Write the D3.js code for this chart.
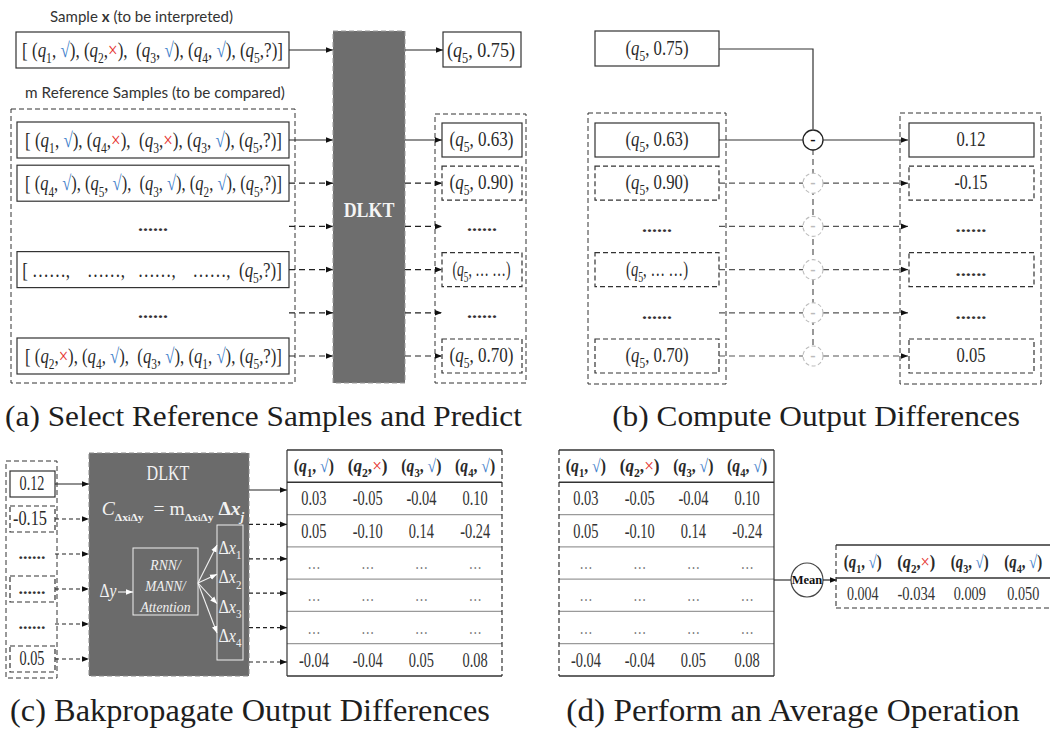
<!DOCTYPE html>
<html><head><meta charset="utf-8">
<script src="https://cdn.jsdelivr.net/npm/d3@7"></script>
<style>html,body{margin:0;padding:0;background:#fff}svg{display:block}</style>
</head><body><svg id="c" width="1050" height="731"></svg>
<script>
// ---------------- data ----------------
const sampleX = [[1,"√"],[2,"×"],[3,"√"],[4,"√"],[5,"?"]];
const refSamples = [
  [[1,"√"],[4,"×"],[3,"×"],[3,"√"],[5,"?"]],
  [[4,"√"],[5,"√"],[3,"√"],[2,"√"],[5,"?"]],
  null,
  "elided",
  null,
  [[2,"×"],[4,"√"],[3,"√"],[1,"√"],[5,"?"]]
];
const predX = "0.75";
const predRefs = ["0.63","0.90",null,"… …",null,"0.70"];
const outDiffs = ["0.12","-0.15",null,"......",null,"0.05"];
const attrHeader = [[1,"√"],[2,"×"],[3,"√"],[4,"√"]];
const attrRows = [
  ["0.03","-0.05","-0.04","0.10"],
  ["0.05","-0.10","0.14","-0.24"],
  ["…","…","…","…"],
  ["…","…","…","…"],
  ["…","…","…","…"],
  ["-0.04","-0.04","0.05","0.08"]
];
const meanValues = ["0.004","-0.034","0.009","0.050"];
const deltaX = [1,2,3,4];
const rnnLines = ["RNN/","MANN/","Attention"];
const captions = ["(a) Select Reference Samples and Predict","(b) Compute Output Differences",
                  "(c) Bakpropagate Output Differences","(d) Perform an Average Operation"];

// ---------------- helpers ----------------
const SERIF = "'Liberation Serif','Times New Roman',serif";
const SANS = "Lato,'Open Sans','Liberation Sans',sans-serif";
const CHECK = "#3f7fcb", CROSS = "#e5322d", INK = "#2a2a2a";
const svg = d3.select("#c");
const defs = svg.append("defs");
function marker(id, color){
  defs.append("marker").attr("id",id).attr("viewBox","0 0 10 10").attr("refX",10).attr("refY",5)
    .attr("markerWidth",7).attr("markerHeight",7).attr("markerUnits","userSpaceOnUse").attr("orient","auto")
    .append("path").attr("d","M0,1 L10,5 L0,9 z").attr("fill",color);
}
marker("aB","#111"); marker("aW","#fff");

function rich(parent, x, y, parts, o){
  o = o || {};
  const size = o.size || 18;
  const g = parent.append("g").attr("transform",`translate(${x},${y})`);
  const t = g.append("text").attr("text-anchor", o.anchor || "middle")
    .attr("font-family", o.font || SERIF).attr("font-size", size)
    .attr("fill", o.fill || INK).style("white-space","pre");
  if (o.weight) t.attr("font-weight", o.weight);
  if (o.italic) t.attr("font-style","italic");
  if (typeof parts === "string") parts = [{t:parts}];
  let sh = 0;
  parts.forEach(p=>{
    const ts = t.append("tspan").text(p.t);
    const want = p.sub ? size*(p.shift||0.3) : 0;
    if (want !== sh){ ts.attr("dy", want - sh); sh = want; }
    if (p.sub) ts.attr("font-size", size*(p.ss||0.68));
    if (p.i) ts.attr("font-style","italic");
    if (p.b) ts.attr("font-weight","bold");
    if (p.n) ts.attr("font-weight","normal");
    if (p.c) ts.attr("fill", p.c);
  });
  let sx = o.sx || 1;
  if (o.w){ const bw = t.node().getBBox().width; if (bw>0) sx = o.w/bw; }
  if (sx !== 1) g.attr("transform",`translate(${x},${y}) scale(${sx},1)`);
  return g;
}
function pair(q, r, bold){
  const tight = (r==="×"||r==="?");
  return [{t:"(",b:bold},{t:"q",i:1,b:bold},{t:String(q),sub:1,b:bold},{t:tight?",":", ",b:bold},
          {t:r,c: r==="√"?CHECK:(r==="×"?CROSS:null),n:1},{t:")",b:bold}];
}
function seqParts(list){
  let parts=[{t:"[ "}];
  const seps = [", ",",  ",", ",", "];
  list.forEach((d,i)=>{ parts = parts.concat(pair(d[0],d[1])); parts.push({t: i<list.length-1 ? seps[i] : "]"}); });
  return parts;
}
function predParts(v){ return [{t:"("},{t:"q",i:1},{t:"5",sub:1},{t:", "+v+")"}]; }
function rect(g,x0,y0,x1,y1,o){
  o=o||{};
  return g.append("rect").attr("x",x0).attr("y",y0).attr("width",x1-x0).attr("height",y1-y0)
    .attr("fill",o.fill||"none").attr("stroke",o.stroke||"#333").attr("stroke-width",o.sw||1.2)
    .attr("stroke-dasharray",o.dash?(o.dashArr||"5,3"):null);
}
function line(g,x1,y1,x2,y2,o){
  o=o||{};
  return g.append("line").attr("x1",x1).attr("y1",y1).attr("x2",x2).attr("y2",y2)
    .attr("stroke",o.stroke||"#222").attr("stroke-width",o.sw||1.2)
    .attr("stroke-dasharray",o.dash?(o.dashArr||"6,4"):null)
    .attr("marker-end",o.arrow?`url(#${o.arrow})`:null);
}
function dots(g,cx,y,w,size){ return rich(g,cx,y,"......",{size:size||18,w:w,weight:"bold",fill:"#333"}); }

// ---------------- scales ----------------
const rowsA = d3.scalePoint().domain(d3.range(6)).range([140,356]);
const rowsCL = d3.scalePoint().domain(d3.range(6)).range([484,659]);
const rowsCR = d3.scalePoint().domain(d3.range(6)).range([490,662]);
const tabRows = d3.scaleBand().domain(d3.range(7)).range([450,676]);
const colsC = d3.scaleBand().domain(d3.range(4)).range([287,502]);
const colsD = d3.scaleBand().domain(d3.range(4)).range([559,774]);
const colsM = d3.scaleBand().domain(d3.range(4)).range([836,1050]);
const dxRows = d3.scalePoint().domain(deltaX).range([548,636]);

// ---------------- panel (a) ----------------
const A = svg.append("g");
rich(A,141.5,22,[{t:"Sample "},{t:"x",b:1},{t:" (to be interpreted)"}],{font:SANS,size:15,w:183,fill:"#333"});
rect(A,16,32,289,68);
rich(A,152.5,57,seqParts(sampleX),{size:21,w:261});
rich(A,155,98,"m Reference Samples (to be compared)",{font:SANS,size:15,w:260,fill:"#333"});
rect(A,11,109,295,383,{dash:1,sw:1});
refSamples.forEach((r,i)=>{
  const y = rowsA(i);
  if (r===null){ dots(A,153,y+5,30,16); }
  else {
    rect(A,17,y-18,289,y+18);
    if (r==="elided") rich(A,152,y+7,[{t:"[ ……,    ……,   ……,    ……,  "},{t:"("},{t:"q",i:1},{t:"5",sub:1},{t:",?)]"}],{size:21,w:260});
    else rich(A,153.5,y+7,seqParts(r),{size:21,w:257});
  }
  line(A,289,y,333,y,{dash:i>0,arrow:"aB"});
});
line(A,289,50,333,50,{arrow:"aB"});
rect(A,333,31,405,383,{fill:"#6e6e6e",stroke:"#9a9a9a",dash:1,sw:1});
rich(A,369,217,"DLKT",{size:22,weight:"bold",fill:"#f4f4f4",w:51});
line(A,405,50,443,50,{arrow:"aB"});
rect(A,443,32,521,67);
rich(A,481,57,predParts(predX),{size:20,w:68});
rect(A,435,114,526,383,{dash:1,sw:1});
predRefs.forEach((v,i)=>{
  const y = rowsA(i);
  line(A,405,y,442,y,{dash:i>0,arrow:"aB"});
  if (v===null){ dots(A,482,y+5,30,16); return; }
  rect(A,442,y-17,522,y+17,{dash:i>0});
  rich(A,481.5,y+6,predParts(v),{size:20,w: v==="… …"?58:64});
});

// ---------------- panel (b) ----------------
const B = svg.append("g");
rect(B,595,31,719,66);
rich(B,657,55,predParts(predX),{size:20,w:63});
B.append("path").attr("d","M719,49 H813 V129").attr("fill","none").attr("stroke","#333").attr("stroke-width",1.2);
rect(B,588,113,726,384,{dash:1,sw:1});
rect(B,900,113,1041,384,{dash:1,sw:1});
line(B,813,149,813,345,{dash:1,stroke:"#555",sw:1.2});
predRefs.forEach((v,i)=>{
  const y = rowsA(i);
  if (v===null) dots(B,657,y+6,30,16);
  else { rect(B,595,y-17,719,y+17,{dash:i>0}); rich(B,657,y+6,predParts(v),{size:20,w:v==="… …"?62:63}); }
  line(B,719,y,803,y,{dash:i>0,stroke:i>0?"#555":"#333"});
  line(B,823,y,908,y,{dash:i>0,stroke:i>0?"#555":"#333",arrow:"aB"});
  const d = outDiffs[i];
  if (d===null) dots(B,971,y+6,31,16);
  else { rect(B,909,y-17,1034,y+17,{dash:i>0});
    if (d==="......") dots(B,971,y+6,31,16); else rich(B,971,y+6,d,{size:20,w:d.length>4?33:29}); }
});
predRefs.forEach((v,i)=>{
  const y = rowsA(i);
  B.append("circle").attr("cx",813).attr("cy",y).attr("r",10).attr("fill","#fff")
    .attr("stroke",i===0?"#222":"#bdbdbd").attr("stroke-width",i===0?1.3:1.1)
    .attr("stroke-dasharray",i===0?null:"4,2.5");
  rich(B,813,y+5,"-",{size:16,weight:"bold",fill:i===0?"#111":"#bbb"});
});

// ---------------- panel (c) ----------------
const C = svg.append("g");
rect(C,6,461,57,678,{dash:1,sw:1});
outDiffs.forEach((d,i)=>{
  const y = rowsCL(i);
  if (d===null) dots(C,32,y+5,27,16);
  else { rect(C,10,y-13,55,y+13,{dash:i>0});
    if (d==="......") dots(C,32,y+5,27,16); else rich(C,d.length>4?30:32,y+6,d,{size:20,w:d.length>4?34:25}); }
  line(C,55,y,89,y,{dash:i>0,dashArr:"4,3",arrow:"aB"});
});
rect(C,89,453,249,676,{fill:"#6b6b6b",stroke:"#8a8a8a",dash:1,sw:1});
rich(C,168,480,"DLKT",{size:21,fill:"#f2f2f2",w:43});
rich(C,173,515,[{t:"C",i:1},{t:"Δx",sub:1,b:1,ss:0.6},{t:"i",sub:1,b:1,ss:0.45},{t:"Δy",sub:1,b:1,ss:0.6},{t:"  = m"},
  {t:"Δx",sub:1,b:1,ss:0.6},{t:"i",sub:1,b:1,ss:0.45},{t:"Δy",sub:1,b:1,ss:0.6},{t:" Δ",b:1},{t:"x",i:1,b:1},{t:"j",sub:1,i:1,b:1}],
  {size:19,fill:"#f2f2f2",w:143});
rect(C,133,548,198,615,{stroke:"#f0f0f0",sw:1});
const rnnY = d3.scalePoint().domain(rnnLines).range([570,612]);
const rnnW = {"RNN/":33,"MANN/":43,"Attention":51};
rnnLines.forEach(s=>rich(C,165.5,rnnY(s),s,{size:15,italic:1,fill:"#f2f2f2",w:rnnW[s]}));
rich(C,108,597,[{t:"Δ"},{t:"y",i:1}],{size:18,fill:"#f2f2f2",w:17});
line(C,118,592,133,592,{stroke:"#f2f2f2",sw:1.1,arrow:"aW"});
rect(C,217,525,243,660,{stroke:"#f0f0f0",sw:1});
deltaX.forEach(k=>{
  const y = dxRows(k);
  rich(C,230,y+6,[{t:"Δ"},{t:"x",i:1},{t:String(k),sub:1}],{size:18,fill:"#f2f2f2",w:23});
  line(C,198,583,217,y-3,{stroke:"#f2f2f2",sw:1.1,arrow:"aW"});
});
d3.range(6).forEach(i=>{ const y = rowsCR(i); line(C,249,y,287,y,{dash:i>0,dashArr:"4,3",arrow:"aB"}); });

function table(g, cols, leftDash, rightDash){
  const x0 = cols.range()[0], x1 = cols.range()[1];
  const y0 = tabRows.range()[0], y1 = tabRows.range()[1];
  d3.range(2,7).forEach(r=>line(g,x0,tabRows(r),x1,tabRows(r),{stroke:"#9a9a9a",sw:1.2}));
  line(g,x0,y0,x1,y0,{stroke:"#333",sw:1.5});
  line(g,x0,tabRows(1),x1,tabRows(1),{stroke:"#333",sw:1.5});
  line(g,x0,y1,x1,y1,{stroke:"#333",sw:1.5});
  line(g,x0,y0,x0,y1,{stroke:"#333",sw:1.2,dash:leftDash,dashArr:"5,3"});
  line(g,x1,y0,x1,y1,{stroke:"#333",sw:1.2,dash:rightDash,dashArr:"5,3"});
  attrHeader.forEach((h,j)=>rich(g,cols(j)+cols.bandwidth()/2,tabRows(0)+22,pair(h[0],h[1],1),{size:18,w:40}));
  attrRows.forEach((row,r)=>row.forEach((v,j)=>{
    const cx = cols(j)+cols.bandwidth()/2, cy = tabRows(r+1)+tabRows.bandwidth()/2;
    if (v==="…") rich(g,cx,cy+6,"…",{size:16,fill:"#777",w:13});
    else rich(g,cx,cy+7,v,{size:20,fill:"#333",sx:0.72});
  }));
}
table(C,colsC,false,true);

// ---------------- panel (d) ----------------
const D = svg.append("g");
table(D,colsD,true,false);
line(D,774,580,791,580,{stroke:"#333"});
D.append("ellipse").attr("cx",807).attr("cy",580).attr("rx",16).attr("ry",17).attr("fill","#fff").attr("stroke","#444").attr("stroke-width",1.2);
rich(D,807,584,"Mean",{size:12,weight:"bold",fill:"#111",w:31});
line(D,823,580,837,580,{arrow:"aB"});
line(D,836,545,1050,545,{stroke:"#333",sw:1.5});
line(D,836,578,1050,578,{stroke:"#333",sw:1.5});
line(D,836,545,836,608,{stroke:"#333",sw:1.1,dash:1,dashArr:"5,3"});
line(D,836,608,1050,608,{stroke:"#333",sw:1.1,dash:1,dashArr:"5,3"});
attrHeader.forEach((h,j)=>rich(D,colsM(j)+colsM.bandwidth()/2,568,pair(h[0],h[1],1),{size:18,w:38}));
meanValues.forEach((v,j)=>rich(D,colsM(j)+colsM.bandwidth()/2,600,v,{size:19,fill:"#333",w:v.length>5?38:32}));

// ---------------- captions ----------------
const capPos = [[263.5,426,517,29],[816,426,408,29],[250,721,480,31],[793,721,454,31]];
captions.forEach((c,i)=>rich(svg,capPos[i][0],capPos[i][1],c,{size:capPos[i][3],fill:"#1e1e1e",w:capPos[i][2]}));
</script></body></html>
